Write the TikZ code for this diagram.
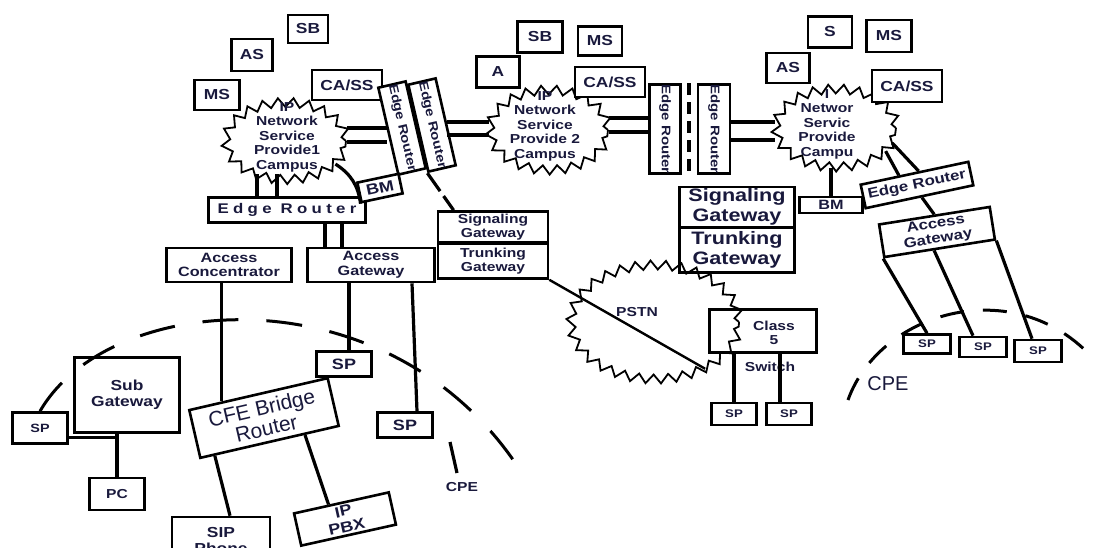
\documentclass[tikz,border=0pt]{standalone}
\usepackage{fontspec}
\setmainfont{Liberation Sans}
\newfontfamily\wide{Liberation Sans}[FakeStretch=1.2]
\usetikzlibrary{shapes.geometric,decorations.pathmorphing,calc}
\definecolor{ink}{RGB}{25,25,60}
\newcommand{\fsz}[2]{\fontsize{#1}{#2}\selectfont}

\begin{document}
\begin{tikzpicture}[x=1pt,y=-1pt,
  box/.style={draw, line width=2.6pt, fill=white, inner sep=0pt, align=center, text=ink, font=\wide\bfseries\fsz{14.5}{16}},
  cloudz/.style={ellipse, draw, line width=1.8pt, inner sep=0pt, decorate, decoration={zigzag, segment length=15pt, amplitude=4.5pt}},
  lbl/.style={inner sep=0pt, align=center, text=ink, font=\wide\bfseries\fsz{13}{14.5}},
  link/.style={line width=3.2pt},
  dashlink/.style={line width=3.2pt, dash pattern=on 22pt off 6pt},
  cpearc/.style={line width=3pt, dash pattern=on 36pt off 28pt}]

\useasboundingbox (0,0) rectangle (1093,547);

% provider campus 1
\node[cloudz, minimum width=120, minimum height=77] (c1) at (286,141) {};
\node[lbl] (c1t) at (287,137) {IP\\Network\\Service\\Provide1\\Campus};
\node[box, minimum width=45, minimum height=30] (ms1) at (217,95) {MS};
\node[box, minimum width=41, minimum height=32] (as1) at (252,55) {AS};
\node[box, minimum width=40, minimum height=28] (sb1) at (308,29) {SB};
\node[box, minimum width=70, minimum height=30] (ca1) at (347,85) {CA/SS};
\node[box, font=\wide\bfseries\fsz{12.5}{13}, minimum width=82, minimum height=28, rotate=-77] (er1) at (402,128) {Edge Router};
\node[box, font=\wide\bfseries\fsz{12.5}{13}, minimum width=82, minimum height=28, rotate=-77] (er2) at (432,125) {Edge Router};
\node[box, font=\wide\bfseries\fsz{14}{14}\addfontfeature{LetterSpace=31}, minimum width=157, minimum height=25] (erL) at (287,210) {Edge Router};
\node[box, font=\wide\bfseries\fsz{15}{15}, minimum width=42, minimum height=20, rotate=12] (bmL) at (380,188) {BM};
\node[box, font=\wide\bfseries\fsz{13.5}{14.5}, minimum width=125, minimum height=34] (acL) at (229,265) {Access\\Concentrator};
\node[box, font=\wide\bfseries\fsz{13.5}{14.5}, minimum width=127, minimum height=34] (agL) at (371,265) {Access\\Gateway};
\node[box, font=\wide\bfseries\fsz{13}{14}, minimum width=110, minimum height=31] (sgL) at (493,227) {Signaling\\Gateway};
\node[box, font=\wide\bfseries\fsz{13}{14}, minimum width=110, minimum height=35] (tgL) at (493,261) {Trunking\\Gateway};

% customer premises, left
\node[box, minimum width=105, minimum height=75] (sub) at (127,395) {Sub\\Gateway};
\node[box, font=\wide\bfseries\fsz{12}{12}, minimum width=55, minimum height=31] (spL) at (40,428) {SP};
\node[box, font=\wide\bfseries\fsz{13}{13}, minimum width=55, minimum height=32] (pc) at (117,494) {PC};
\node[box, font=\fsz{21}{21}, minimum width=142, minimum height=49, rotate=13] (cfe) at (264,418) {CFE Bridge\\Router};
\node[box, minimum width=98, minimum height=46] (sip) at (221,540) {SIP\\Phone};
\node[box, font=\wide\bfseries\fsz{15}{16}, minimum width=97, minimum height=33, rotate=12.5] (pbx) at (345,519) {IP\\PBX};
\node[box, font=\wide\bfseries\fsz{15}{15}, minimum width=55, minimum height=25] (spA) at (344,364) {SP};
\node[box, font=\wide\bfseries\fsz{15}{15}, minimum width=55, minimum height=25] (spB) at (405,425) {SP};
\node[lbl] (cpeLt) at (462,487) {CPE};

% provider campus 2
\node[cloudz, minimum width=118, minimum height=80] (c2) at (549,130) {};
\node[lbl] (c2t) at (545,126) {IP\\Network\\Service\\Provide 2\\Campus};
\node[box, minimum width=45, minimum height=31] (sb2) at (540,37) {SB};
\node[box, minimum width=44, minimum height=29] (ms2) at (600,41) {MS};
\node[box, minimum width=43, minimum height=31] (a2) at (498,72) {A};
\node[box, minimum width=70, minimum height=30] (ca2) at (610,82) {CA/SS};
\node[box, font=\wide\bfseries\fsz{12.5}{13}, minimum width=82, minimum height=31, rotate=-90] (er3) at (665,129) {Edge Router};
\node[box, font=\wide\bfseries\fsz{12.5}{13}, minimum width=82, minimum height=32, rotate=-90] (er4) at (714,129) {Edge Router};

% PSTN side
\node[box, font=\wide\bfseries\fsz{18}{19.5}, minimum width=115, minimum height=40] (sgR) at (737,207) {Signaling\\Gateway};
\node[box, font=\wide\bfseries\fsz{18}{19.5}, minimum width=115, minimum height=45] (tgR) at (737,250) {Trunking\\Gateway};
\node[box, fill=none, minimum width=107, minimum height=43] (cls) at (763,331) {};
\node[cloudz, minimum width=168, minimum height=114] (pstn) at (655,322) {};
\node[lbl] (pstnt) at (637,312) {PSTN};
\node[lbl, font=\wide\bfseries\fsz{13}{14}] (clst) at (774,333) {Class\\5};
\node[lbl] (swt) at (770,367) {Switch};
\node[box, font=\wide\bfseries\fsz{11}{11}, minimum width=45, minimum height=22] (spS1) at (734,414) {SP};
\node[box, font=\wide\bfseries\fsz{11}{11}, minimum width=45, minimum height=22] (spS2) at (789,414) {SP};

% provider campus 3
\node[cloudz, minimum width=120, minimum height=78] (c3) at (836,128) {};
\node[lbl] (c3t) at (827,124) {I\\Networ\\Servic\\Provide\\Campu};
\node[box, minimum width=44, minimum height=31] (s3) at (830,32) {S};
\node[box, minimum width=45, minimum height=32] (ms3) at (889,36) {MS};
\node[box, minimum width=43, minimum height=30] (as3) at (788,68) {AS};
\node[box, minimum width=70, minimum height=32] (ca3) at (907,86) {CA/SS};
\node[box, font=\wide\bfseries\fsz{13.5}{13.5}, minimum width=63, minimum height=16] (bmR) at (831,205) {BM};
\node[box, font=\wide\bfseries\fsz{14}{14}, minimum width=110, minimum height=24, rotate=12] (erR) at (917,185) {Edge Router};
\node[box, font=\wide\bfseries\fsz{14}{15}, minimum width=112, minimum height=33, rotate=9] (agR) at (937,232) {Access\\Gateway};
\node[box, font=\wide\bfseries\fsz{11}{11}, minimum width=47, minimum height=19] (spR1) at (927,344) {SP};
\node[box, font=\wide\bfseries\fsz{11}{11}, minimum width=47, minimum height=20] (spR2) at (983,347) {SP};
\node[box, font=\wide\bfseries\fsz{11}{11}, minimum width=47, minimum height=22] (spR3) at (1038,351) {SP};
\node[lbl, font=\fsz{20}{20}] (cpeRt) at (888,384) {CPE};

% backbone links
\draw[link] (c1.east |- 0,128) -- (er1.south |- 0,128);
\draw[link] (c1.east |- 0,142) -- (er1.south |- 0,142);
\draw[link] (er2.north |- 0,122) -- (c2.west |- 0,122);
\draw[link] (er2.north |- 0,135) -- (c2.west |- 0,135);
\draw[link] (c2.east |- 0,118) -- (er3.south |- 0,118);
\draw[link] (c2.east |- 0,132) -- (er3.south |- 0,132);
\draw[link] (er4.north |- 0,122) -- (c3.west |- 0,122);
\draw[link] (er4.north |- 0,140) -- (c3.west |- 0,140);
\coordinate (gap) at ($(er3.north)!.5!(er4.south)$);
\draw[line width=4pt, dash pattern=on 12pt off 7pt] (gap |- er3.west) -- (gap |- er3.east);
\draw[dashlink] (er2.south east) -- ($(sgL.north west)!.15!(sgL.north east)$);

% campus 1 access side
\draw[line width=4.5pt] ($(c1.south -| 257,0)+(0,-6)$) -- (erL.north -| 257,0);
\draw[link] ($(c1.south -| 277,0)+(0,-6)$) -- (erL.north -| 277,0);
\draw[link] (c1.-25) to[bend left=25] (bmL.south west);
\draw[link] (erL.south -| 325,0) -- (agL.north -| 325,0);
\draw[link] (erL.south -| 342,0) -- (agL.north -| 342,0);
\coordinate (cfetop) at ($(cfe.north west)!.24!(cfe.north east)$);
\draw[link] (acL.south -| cfetop) -- (cfetop);
\draw[link] (agL.south -| 349,0) -- (spA.north -| 349,0);
\draw[link] (agL.south -| 412,0) -- ([xshift=12pt]spB.north);
\draw[link] ($(cfe.south west)!.11!(cfe.south east)$) -- ([xshift=9pt]sip.north);
\draw[link] ($(cfe.south west)!.75!(cfe.south east)$) -- ($(pbx.north west)!.37!(pbx.north east)$);
\draw[link] (sub.south -| pc.north) -- (pc.north);
\coordinate (spj) at ($(sub.south -| pc.north)+(0,4)$);
\draw[link] (spL.east |- spj) -- (spj);

% PSTN links
\draw[line width=2.4pt] (tgL.south east) -- (pstn.-43);
\draw[link] (cls.south -| spS1.north) -- (spS1.north);
\draw[link] (cls.south -| 780,0) -- (spS2.north -| 780,0);

% campus 3 access side
\draw[link] (c3.south -| bmR.north) -- (bmR.north);
\draw[link] (c3.-25) -- ($(erR.north west)!.36!(erR.north east)$);
\draw[link] (c3.-15) -- ($(erR.north west)!.54!(erR.north east)$);
\draw[link] ($(erR.south west)!.52!(erR.south east)$) -- (agR.north);
\draw[link] (agR.south west) -- (spR1.north);
\draw[link] ($(agR.south west)!.45!(agR.south east)$) -- ([xshift=-10pt]spR2.north);
\draw[link] (agR.south east) -- ([xshift=-6pt]spR3.north);

% CPE boundaries
\coordinate (cpeL) at (520,470);
\draw[cpearc] (spL.north) .. controls (110,290) and (390,270) .. (cpeL);
\coordinate (cpeLa) at (457,473);
\coordinate (cpeLb) at (450,442);
\draw[link] (cpeLa) -- (cpeLb);
\coordinate (cpeR1) at (848,400);
\coordinate (cpeR2) at (1098,364);
\draw[line width=3pt, dash pattern=on 24pt off 19pt] (cpeR1) .. controls (880,310) and (1020,270) .. (cpeR2);
\end{tikzpicture}
\end{document}
